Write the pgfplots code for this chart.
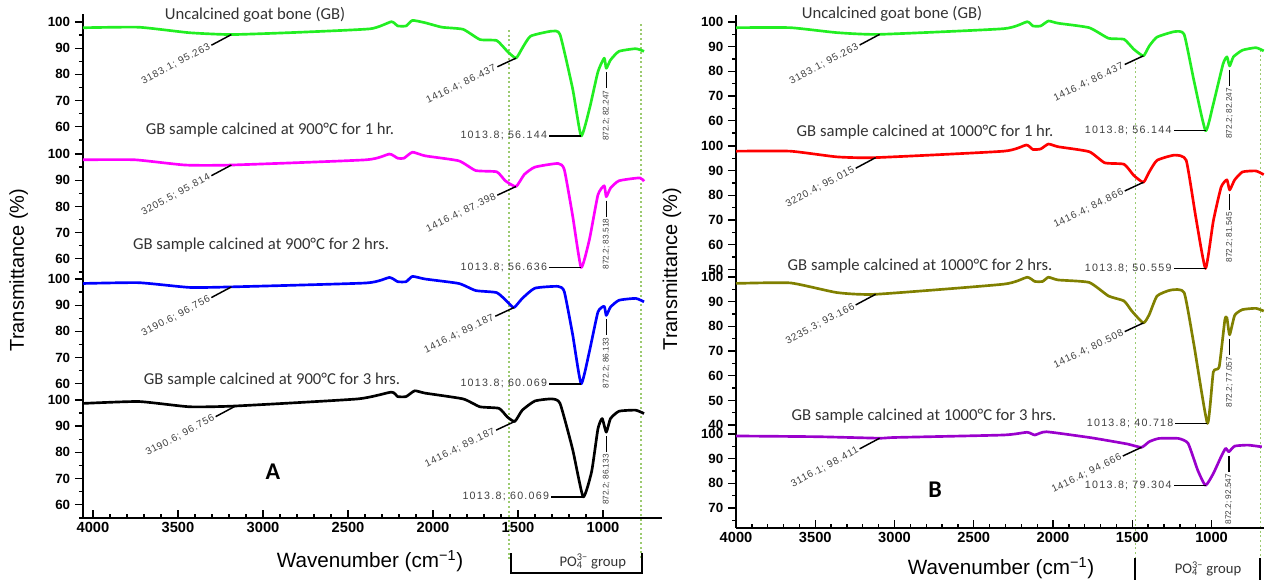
\documentclass[border=0pt]{standalone}
\usepackage{fontspec}
\setmainfont{Liberation Sans}
\newfontfamily\titlefont{Carlito}
\newfontfamily\annfont[LetterSpace=8]{Liberation Sans}
\newfontfamily\annwidefont[LetterSpace=12]{Liberation Sans}
\usepackage{pgfplots}
\pgfplotsset{compat=1.18}

\definecolor{cgreen}{HTML}{22EE22}
\definecolor{cmag}{HTML}{FF00FF}
\definecolor{cblue}{HTML}{0000FF}
\definecolor{cred}{HTML}{FF0000}
\definecolor{colive}{HTML}{808000}
\definecolor{cpurple}{HTML}{9A00CC}
\definecolor{dotgreen}{HTML}{9CCB70}
\definecolor{anngray}{HTML}{404040}

\tikzset{
  annline/.style={black, line width=1.1pt},
  annnode/.style={font=\annfont\fontsize{7.5}{8}\selectfont, text=anngray, inner sep=1pt},
  annhnode/.style={font=\annwidefont\fontsize{8}{8}\selectfont, text=anngray, inner sep=1pt},
  annvnode/.style={font=\fontsize{6.2}{7}\selectfont, text=anngray, inner sep=1pt},
  dotline/.style={dotgreen, line width=1.3pt, dash pattern=on 1.5pt off 2pt},
}
\pgfplotsset{
  ftir/.style={
    scale only axis,
    x dir=reverse,
    clip=false,
    axis y line*=left,
    ytick align=outside,
    ytick={40,50,...,100},
    minor y tick num=1,
    major tick length=6pt,
    minor tick length=3pt,
    every tick/.append style={black, line width=1pt},
    axis line style={black, line width=1.4pt},
    yticklabel style={font=\bfseries\fontsize{10}{10}\selectfont},
    /pgf/number format/assume math mode=true,
    /pgf/number format/1000 sep={},
    every axis plot/.append style={line width=2pt, line join=round, smooth, tension=0.3},
    anchor=north,
  },
  ftirtop/.style={ftir, hide x axis},
  ftirbottom/.style={ftir, axis x line*=bottom,
    xtick={1000,1500,...,4000}, minor x tick num=4, xtick align=inside,
    xticklabel style={font=\bfseries\fontsize{11}{11}\selectfont}},
  leftpanel/.style={xmin=654, xmax=4060, width=434.3pt},
  rightpanel/.style={xmin=670, xmax=4000, width=395.9pt},
}
% annotation helpers: rising leader, short rising leader, horizontal, vertical
\newcommand{\annA}[3]{\draw[annline] (axis cs:#1,#2) -- ++(-15pt,-8pt) node[annnode, anchor=east, rotate=28] {#3};}
\newcommand{\annB}[3]{\draw[annline] (axis cs:#1,#2) -- ++(-14pt,-6.5pt) node[annnode, anchor=east, rotate=26] {#3};}
\newcommand{\annC}[3]{\draw[annline] (axis cs:#1,#2) -- ++(-24pt,0pt) node[annhnode, anchor=east] {#3};}
\newcommand{\annD}[3]{\draw[annline] (axis cs:#1,#2) ++(0pt,-3pt) -- ++(0pt,-12pt) node[annvnode, anchor=east, rotate=90] {#3};}

\begin{document}
\begin{tikzpicture}
\useasboundingbox (0,0) rectangle (951.75pt,435pt);

% ---------------- left panel (900 C) ----------------
\begin{axis}[ftirtop, leftpanel, at={(279.25pt,424.4pt)}, height=101.0pt, ymin=51.6, ymax=103]
\draw[dotline] (axis cs:1555,96.9) -- (axis cs:1555,-105.3);
\draw[dotline] (axis cs:778,99.2) -- (axis cs:778,-105.3);
\addplot[cgreen] coordinates {(4060,97.8)(3730,98.0)(3433,95.9)(3186,95.2)(2814,96.0)(2369,97.4)(2245,100.1)(2208,98.5)(2158,98.5)(2121,100.6)(2046,99.7)(1947,98.0)(1823,97.2)(1724,93.3)(1625,92.9)(1563,88.8)(1512,86.2)(1475,90.0)(1426,94.6)(1302,96.5)(1253,95.2)(1179,74.6)(1129,56.5)(1080,66.8)(1030,81.0)(993,86.2)(981,82.3)(956,85.5)(906,88.8)(808,89.8)(759,88.8)};
\annA{3186}{95.2}{3183.1; 95.263}
\annB{1512}{86.2}{1416.4; 86.437}
\annC{1129}{56.5}{1013.8; 56.144}
\annD{981}{82.3}{872.2; 82.247}
\end{axis}

\begin{axis}[ftirtop, leftpanel, at={(279.25pt,323.4pt)}, height=93.7pt, ymin=54.3, ymax=102]
\addplot[cmag] coordinates {(4060,97.8)(3755,97.8)(3458,95.8)(3186,95.8)(2393,97.8)(2257,100)(2208,98.4)(2171,98.4)(2121,100.7)(2046,99.3)(1848,97.4)(1749,93.7)(1625,93.2)(1575,89.8)(1512,87.6)(1463,92.2)(1401,95.0)(1265,96.4)(1228,94.1)(1179,76.5)(1129,56.7)(1080,67.4)(1030,84.4)(993,87.9)(981,83.7)(956,87.0)(906,89.8)(784,90.9)(759,89.6)};
\annA{3186}{95.8}{3205.5; 95.814}
\annB{1512}{87.6}{1416.4; 87.398}
\annC{1129}{56.7}{1013.8; 56.636}
\annD{981}{83.7}{872.2; 83.518}
\end{axis}

\begin{axis}[ftirtop, leftpanel, at={(279.25pt,229.65pt)}, height=87.8pt, ymin=57.3, ymax=102]
\addplot[cblue] coordinates {(4060,98.3)(3730,98.6)(3433,96.8)(3186,97.0)(2393,98.5)(2257,100.6)(2208,99.0)(2158,99.0)(2121,101.0)(2046,100.0)(1848,98.3)(1749,95.6)(1625,94.8)(1563,91.3)(1524,89.1)(1475,92.6)(1401,96.5)(1265,97.2)(1228,95.2)(1179,78.9)(1129,60.0)(1080,72.4)(1030,87.4)(993,89.6)(981,86.1)(956,89.3)(906,91.9)(808,92.6)(759,91.3)};
\annA{3186}{97.0}{3190.6; 96.756}
\annB{1524}{89.1}{1416.4; 89.187}
\annC{1129}{60.0}{1013.8; 60.069}
\annD{981}{86.1}{872.2; 86.133}
\end{axis}

\begin{axis}[ftirbottom, leftpanel, at={(279.25pt,141.9pt)}, height=95.3pt, ymin=55, ymax=103.5]
\addplot[black] coordinates {(4052,98.7)(3730,99.4)(3433,97.4)(3161,97.7)(2443,100.4)(2245,103.0)(2208,101.3)(2158,101.3)(2108,103.5)(2046,102.6)(1823,100.4)(1724,97.4)(1612,96.8)(1563,93.5)(1519,91.8)(1475,96.1)(1401,99.6)(1302,100.4)(1253,98.7)(1179,81.2)(1117,63.0)(1067,72.7)(1030,89.0)(1005,92.9)(981,87.7)(956,92.9)(906,95.7)(808,96.1)(759,94.8)};
\annA{3161}{97.7}{3190.6; 96.756}
\annB{1519}{91.8}{1416.4; 89.187}
\annC{1117}{63.0}{1013.8; 60.069}
\annD{981}{87.7}{872.2; 86.133}
\draw[black, line width=1.5pt] (axis cs:1540,41.5) -- (axis cs:1540,34) -- (axis cs:768,34) -- (axis cs:768,41.5);
\node[font=\titlefont\fontsize{11}{11}\selectfont, text=black!80] at (axis cs:1060,38.4) {PO\rlap{\textsubscript{4}}\textsuperscript{3−} group};
\end{axis}

% ---------------- right panel (1000 C) ----------------
\begin{axis}[ftirtop, rightpanel, at={(749.95pt,424.05pt)}, height=93.0pt, ymin=52.8, ymax=103]
\draw[dotline] (axis cs:1480,83.8) -- (axis cs:1480,-127.9);
\draw[dotline] (axis cs:692,88.7) -- (axis cs:692,-127.9);
\addplot[cgreen] coordinates {(4000,97.7)(3657,97.7)(3364,95.7)(3094,95.0)(2311,97.3)(2164,100.1)(2127,98.4)(2078,98.4)(2029,100.4)(1968,99.5)(1772,97.7)(1650,93.4)(1552,93.0)(1491,89.0)(1430,86.3)(1393,90.3)(1344,93.9)(1234,96.1)(1173,95.0)(1111,76.2)(1038,56.0)(989,66.8)(928,82.9)(903,85.9)(886,82.2)(862,85.9)(805,88.6)(720,89.6)(671,88.3)};
\annA{3094}{95.0}{3183.1; 95.263}
\annB{1430}{86.3}{1416.4; 86.437}
\annC{1038}{56.0}{1013.8; 56.144}
\annD{886}{82.2}{872.2; 82.247}
\end{axis}

\begin{axis}[ftirtop, rightpanel, at={(749.95pt,331.05pt)}, height=100.0pt, ymin=49, ymax=103]
\addplot[cred] coordinates {(4000,97.9)(3657,97.9)(3364,95.6)(3119,95.3)(2311,97.9)(2169,100.4)(2127,98.6)(2078,98.8)(2029,100.8)(1968,99.7)(1772,97.7)(1674,93.2)(1552,92.6)(1491,88.1)(1430,85.3)(1393,89.5)(1344,94.2)(1234,96.3)(1160,94.2)(1099,71.0)(1038,50.4)(989,69.6)(940,83.3)(903,86.3)(886,82.2)(854,86.3)(805,89.5)(720,89.9)(671,88.4)};
\annA{3119}{95.3}{3220.4; 95.015}
\annB{1430}{85.3}{1416.4; 84.866}
\annC{1038}{50.4}{1013.8; 50.559}
\annD{886}{82.2}{872.2; 81.545}
\end{axis}

\begin{axis}[ftirtop, rightpanel, at={(749.95pt,230.95pt)}, height=117.6pt, ymin=38.5, ymax=102]
\addplot[colive] coordinates {(4000,97.4)(3657,97.6)(3364,93.7)(3119,93.0)(2311,97.1)(2164,99.9)(2115,98.2)(2066,98.2)(2029,99.9)(1968,98.8)(1772,97.8)(1650,92.3)(1552,90.3)(1503,86.2)(1430,81.4)(1393,84.8)(1344,92.3)(1258,94.7)(1173,93.7)(1111,72.5)(1026,40.7)(989,61.5)(952,63.6)(916,82.7)(903,83.4)(886,76.6)(854,84.5)(805,86.8)(720,87.3)(671,86.2)};
\annA{3119}{93.0}{3235.3; 93.166}
\annB{1430}{81.4}{1416.4; 80.508}
\annC{1026}{40.7}{1013.8; 40.718}
\annD{886}{76.6}{872.2; 77.057}
\end{axis}

\begin{axis}[ftirbottom, rightpanel, at={(749.95pt,113.2pt)}, height=74.1pt, ymin=62, ymax=102]
\addplot[cpurple] coordinates {(4000,99.2)(3486,98.9)(3094,98.3)(2996,98.6)(2311,99.6)(2164,100.7)(2115,99.6)(2042,100.9)(1772,98.6)(1650,97.3)(1527,95.9)(1442,94.6)(1393,96.9)(1332,98.2)(1209,98.2)(1148,96.2)(1087,85.3)(1038,79.2)(989,84.0)(940,90.8)(911,94.2)(891,92.8)(854,95.1)(769,95.5)(683,94.8)};
\annA{3094}{98.3}{3116.1; 98.411}
\annB{1442}{94.6}{1416.4; 94.666}
\annC{1038}{79.2}{1013.8; 79.304}
\annD{891}{92.8}{872.2; 92.547}
\draw[black, line width=1.5pt] (axis cs:1480,50) -- (axis cs:1480,36) -- (axis cs:692,36) -- (axis cs:692,50);
\node[font=\titlefont\fontsize{11}{11}\selectfont, text=black!80] at (axis cs:1022,45.5) {PO\rlap{\textsubscript{4}}\textsuperscript{3−} group};
\end{axis}

% ---------------- titles and labels ----------------
\begin{scope}[every node/.style={font=\titlefont\fontsize{12.5}{13}\selectfont, text=black!80}]
\node at (191.3pt,424pt) {Uncalcined goat bone (GB)};
\node at (202.5pt,337.5pt) {GB sample calcined at 900°C for 1 hr.};
\node at (195.8pt,251.25pt) {GB sample calcined at 900°C for 2 hrs.};
\node at (204pt,150pt) {GB sample calcined at 900°C for 3 hrs.};
\node at (669pt,424.5pt) {Uncalcined goat bone (GB)};
\node at (693.75pt,336pt) {GB sample calcined at 1000°C for 1 hr.};
\node at (690pt,235.5pt) {GB sample calcined at 1000°C for 2 hrs.};
\node at (693pt,123pt) {GB sample calcined at 1000°C for 3 hrs.};
\end{scope}
\node[font=\titlefont\bfseries\fontsize{18}{18}\selectfont] at (204.75pt,81pt) {A};
\node[font=\titlefont\bfseries\fontsize{18}{18}\selectfont] at (701.25pt,67.5pt) {B};
\node[font=\fontsize{15}{15}\selectfont, rotate=90] at (14pt,232.5pt) {Transmittance (\%)};
\node[font=\fontsize{15}{15}\selectfont, rotate=90] at (504pt,233.25pt) {Transmittance (\%)};
\node[font=\fontsize{15.5}{15.5}\selectfont] at (277.5pt,14pt) {Wavenumber (cm\textsuperscript{−1})};
\node[font=\fontsize{15.5}{15.5}\selectfont] at (750.75pt,9pt) {Wavenumber (cm\textsuperscript{−1})};
\end{tikzpicture}
\end{document}
